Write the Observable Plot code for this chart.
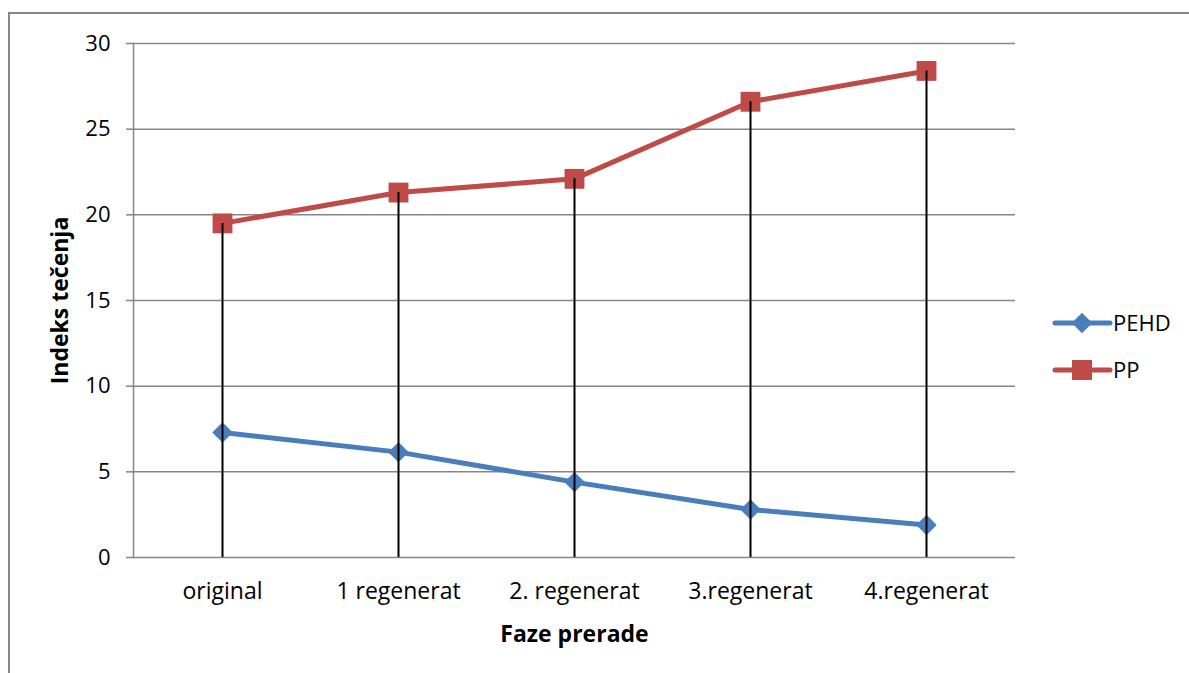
<!DOCTYPE html>
<html>
<head>
<meta charset="utf-8">
<script src="https://cdn.jsdelivr.net/npm/d3@7"></script>
<script src="https://cdn.jsdelivr.net/npm/@observablehq/plot@0.6"></script>
<style>
  html, body { margin: 0; padding: 0; background: #fff; overflow: hidden; }
  #wrap { position: relative; width: 1189px; height: 673px; font-family: "Open Sans", sans-serif; }
  #frame { position: absolute; left: 8px; top: 12px; width: 1300px; height: 800px; border: 2px solid #878787; box-sizing: border-box; pointer-events: none; }
  #legend { position: absolute; left: 1050px; top: 300px; }
</style>
</head>
<body>
<div id="wrap">
  <div id="chart"></div>
  <div id="frame"></div>
  <div id="legend"></div>
</div>
<script>
const categories = ["original", "1 regenerat", "2. regenerat", "3.regenerat", "4.regenerat"];
const pehd = [7.3, 6.15, 4.4, 2.8, 1.9];
const pp = [19.5, 21.3, 22.1, 26.6, 28.4];
const seriesNames = ["PEHD", "PP"];
const seriesColors = ["#4A7EBB", "#BE4B48"];
const yTicks = [0, 5, 10, 15, 20, 25, 30];

const rows = [];
categories.forEach((c, i) => {
  rows.push({cat: c, series: "PEHD", value: pehd[i]});
  rows.push({cat: c, series: "PP", value: pp[i]});
});
const pehdRows = rows.filter(d => d.series === "PEHD");
const ppRows = rows.filter(d => d.series === "PP");

const gray = "#868686";
const chart = Plot.plot({
  width: 1189,
  height: 673,
  marginLeft: 133,
  marginRight: 174,
  marginTop: 43,
  marginBottom: 116,
  style: {fontFamily: "'Open Sans', sans-serif", fontSize: "23px", color: "#000", background: "transparent"},
  x: {type: "point", domain: categories, padding: 0.5},
  y: {domain: [0, 30]},
  marks: [
    Plot.gridY(yTicks, {stroke: gray, strokeOpacity: 1, strokeWidth: 1.5}),
    Plot.frame({anchor: "left", stroke: gray, strokeWidth: 1.5}),
    Plot.axisY(yTicks, {tickSize: 7, tickPadding: 16, stroke: gray, strokeWidth: 1.5, fontSize: 22, fill: "#000", label: null}),
    Plot.axisX({tickSize: 0, tickPadding: 25, fontSize: 23, fill: "#000", label: null}),
    Plot.text(["Indeks tečenja"], {frameAnchor: "left", dx: -73, rotate: -90, textAnchor: "middle", lineAnchor: "middle", fontWeight: "bold", fontSize: 23, fill: "#000"}),
    Plot.text(["Faze prerade"], {frameAnchor: "bottom", dy: 77, textAnchor: "middle", lineAnchor: "middle", fontWeight: "bold", fontSize: 23, fill: "#000"}),
    Plot.line(pehdRows, {x: "cat", y: "value", stroke: seriesColors[0], strokeWidth: 5}),
    Plot.line(ppRows, {x: "cat", y: "value", stroke: seriesColors[1], strokeWidth: 5}),
    Plot.dot(pehdRows, {x: "cat", y: "value", symbol: "diamond2", r: 9.2, fill: seriesColors[0], stroke: "none"}),
    Plot.dot(ppRows, {x: "cat", y: "value", symbol: "square", r: 11.2, fill: seriesColors[1], stroke: "none"}),
    Plot.ruleX(ppRows, {x: "cat", y1: 0, y2: "value", stroke: "#000", strokeWidth: 2})
  ]
});
document.getElementById("chart").appendChild(chart);

// legend
const lg = d3.select("#legend").append("svg").attr("width", 139).attr("height", 100)
  .style("font-family", "'Open Sans', sans-serif");
seriesNames.forEach((name, i) => {
  const y = 23 + i * 47;
  const g = lg.append("g").attr("transform", `translate(0,${y})`);
  g.append("line").attr("x1", 5).attr("x2", 60).attr("y1", 0).attr("y2", 0)
    .attr("stroke", seriesColors[i]).attr("stroke-width", 5).attr("stroke-linecap", "round");
  if (i === 0) {
    g.append("path").attr("d", d3.symbol(d3.symbolDiamond2, 9.2 * 9.2 * Math.PI)()).attr("transform", "translate(32,0)").attr("fill", seriesColors[i]);
  } else {
    g.append("rect").attr("x", 22).attr("y", -10).attr("width", 20).attr("height", 20).attr("fill", seriesColors[i]);
  }
  g.append("text").attr("x", 63).attr("y", 0).attr("dy", "0.35em").attr("font-size", 22).attr("fill", "#000").text(name);
});
</script>
</body>
</html>
